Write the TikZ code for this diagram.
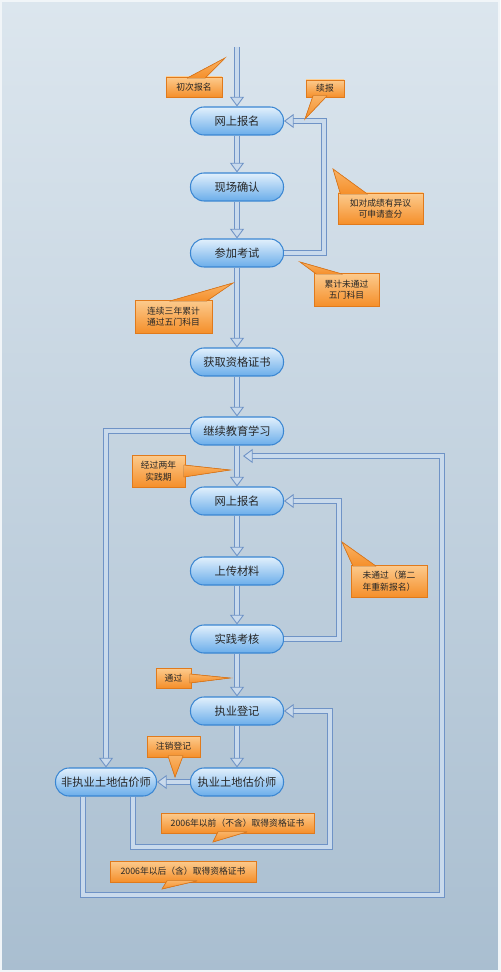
\documentclass[tikz,border=0pt]{standalone}
\usepackage{fontspec}
\setmainfont{Noto Sans CJK SC}
\usetikzlibrary{calc,arrows.meta,shadows}

\definecolor{bgtop}{HTML}{DCE6EE}
\definecolor{bgbot}{HTML}{A9BED0}
\definecolor{boxtop}{HTML}{E2F0FC}
\definecolor{boxbot}{HTML}{6AADEA}
\definecolor{boxline}{HTML}{3A86D2}
\definecolor{flowline}{HTML}{6F93C6}
\definecolor{flowfill}{HTML}{C9DAEC}
\definecolor{notetop}{HTML}{FCCB8E}
\definecolor{notebot}{HTML}{F58F2A}
\definecolor{noteline}{HTML}{E07A1C}

\tikzset{
  stagebox/.style={draw=boxline, line width=0.6pt, rounded corners=0.27cm,
    top color=boxtop, bottom color=boxbot, minimum width=1.86cm,
    minimum height=0.56cm, inner sep=1pt, text=black!85,
    font=\fontsize{6.4}{7}\selectfont},
  flow/.style={draw=flowline, double=flowfill, line width=0.5pt,
    double distance=2.2pt,
    -{Triangle[length=5.5pt, width=8pt, fill=flowfill, line width=0.5pt]}},
  note/.style={draw=noteline, line width=0.4pt, top color=notetop,
    bottom color=notebot, inner sep=1pt, align=center, text=black!85,
    font=\fontsize{5}{6.5}\selectfont,
    drop shadow={shadow xshift=0.7pt, shadow yshift=-0.7pt, opacity=0.25}},
  pointer/.style={draw=noteline, line width=0.4pt,
    top color=notetop!60!notebot, bottom color=notebot},
}

\begin{document}
\begin{tikzpicture}[x=0.02cm, y=-0.02cm]
  \useasboundingbox (0,0) rectangle (500,972);
  \shade[top color=bgtop, bottom color=bgbot] (0,0) rectangle (500,972);
  \draw[white!60!bgtop, line width=1pt] (1,1) rectangle (499,971);

  % stages
  \node[stagebox] (reg) at (237,121) {网上报名};
  \node[stagebox] (confirm) at (237,187) {现场确认};
  \node[stagebox] (exam) at (237,253) {参加考试};
  \node[stagebox] (cert) at (237,362) {获取资格证书};
  \node[stagebox] (study) at (237,431) {继续教育学习};
  \node[stagebox] (regtwo) at (237,501) {网上报名};
  \node[stagebox] (upload) at (237,571) {上传材料};
  \node[stagebox] (practice) at (237,639) {实践考核};
  \node[stagebox] (license) at (237,711) {执业登记};
  \node[stagebox] (valuer) at (237,782) {执业土地估价师};
  \node[stagebox, minimum width=2.02cm] (nonvaluer) at (106,782) {非执业土地估价师};

  % main flow
  \coordinate (entry) at (237,47);
  \draw[flow] (entry) -- (reg);
  \draw[flow] (reg) -- (confirm);
  \draw[flow] (confirm) -- (exam);
  \draw[flow] (exam) -- (cert);
  \draw[flow] (cert) -- (study);
  \draw[flow] (study) -- (regtwo);
  \draw[flow] (regtwo) -- (upload);
  \draw[flow] (upload) -- (practice);
  \draw[flow] (practice) -- (license);
  \draw[flow] (license) -- (valuer);
  \draw[flow] (valuer) -- (nonvaluer);

  % loops
  \draw[flow] (exam.east) -- ++(40,0) |- (reg.east);
  \draw[flow] (practice.east) -- ++(55,0) |- (regtwo.east);
  \draw[flow] (study.west) -| (nonvaluer.north);
  \coordinate (loopin) at (330,847);
  \draw[flow] ($(nonvaluer.south)+(27,0)$) |- (loopin) |- (license.east);
  \coordinate (loopout) at (442,895);
  \coordinate (rejoin) at (243,456);
  \draw[flow] ($(nonvaluer.south)+(-23,0)$) |- (loopout) |- (rejoin);

  % callouts
  \coordinate (firsttip) at (225,58);
  \coordinate (renewtip) at (305,119);
  \coordinate (appealtip) at (333,169);
  \coordinate (failtip) at (300,262);
  \coordinate (passtip) at (233,283);
  \coordinate (periodtip) at (230,470);
  \coordinate (retrytip) at (342,542);
  \coordinate (okaytip) at (230,678);
  \coordinate (canceltip) at (175,777);
  \coordinate (beforetip) at (213,842);
  \coordinate (aftertip) at (162,889);

  \node[note, minimum width=1.12cm, minimum height=0.4cm] (firstnote) at (194,87) {初次报名};
  \filldraw[pointer] ($(firstnote.north)+(-7,1.5)$) -- (firsttip) -- ($(firstnote.north)+(11,1.5)$);
  \node[note, minimum width=0.76cm, minimum height=0.34cm] (renewnote) at (325,88.5) {续报};
  \filldraw[pointer] ($(renewnote.south)+(-12,-1.5)$) -- (renewtip) -- ($(renewnote.south)+(2,-1.5)$);
  \node[note, minimum width=1.7cm, minimum height=0.62cm] (appealnote) at (380.5,208.5) {如对成绩有异议\\可申请查分};
  \filldraw[pointer] ($(appealnote.north)+(-40,1.5)$) -- (appealtip) -- ($(appealnote.north)+(-13,1.5)$);
  \node[note, minimum width=1.3cm, minimum height=0.66cm] (failnote) at (346.5,289.5) {累计未通过\\五门科目};
  \filldraw[pointer] ($(failnote.north)+(-30,1.5)$) -- (failtip) -- ($(failnote.north)+(-4,1.5)$);
  \node[note, minimum width=1.54cm, minimum height=0.66cm] (passnote) at (173.5,316.5) {连续三年累计\\通过五门科目};
  \filldraw[pointer] ($(passnote.north)+(-4,1.5)$) -- (passtip) -- ($(passnote.north)+(33,1.5)$);
  \node[note, minimum width=1.06cm, minimum height=0.64cm] (periodnote) at (158.5,471) {经过两年\\实践期};
  \filldraw[pointer] ($(periodnote.east)+(-1.5,-6)$) -- (periodtip) -- ($(periodnote.east)+(-1.5,6)$);
  \node[note, minimum width=1.52cm, minimum height=0.64cm] (retrynote) at (389,581) {未通过（第二\\年重新报名）};
  \filldraw[pointer] ($(retrynote.north)+(-36,1.5)$) -- (retrytip) -- ($(retrynote.north)+(-13,1.5)$);
  \node[note, minimum width=0.7cm, minimum height=0.4cm] (okaynote) at (173.5,678) {通过};
  \filldraw[pointer] ($(okaynote.east)+(-1.5,-4)$) -- (okaytip) -- ($(okaynote.east)+(-1.5,5)$);
  \node[note, minimum width=1.06cm, minimum height=0.42cm] (cancelnote) at (173.5,746.5) {注销登记};
  \filldraw[pointer] ($(cancelnote.south)+(-5.5,-1.5)$) -- (canceltip) -- ($(cancelnote.south)+(9.5,-1.5)$);
  \node[note, minimum width=3.06cm, minimum height=0.4cm] (beforenote) at (237.5,823) {2006年以前（不含）取得资格证书};
  \filldraw[pointer] ($(beforenote.south)+(-19.5,-1.5)$) -- (beforetip) -- ($(beforenote.south)+(9.5,-1.5)$);
  \node[note, minimum width=2.92cm, minimum height=0.42cm] (afternote) at (183,871.5) {2006年以后（含）取得资格证书};
  \filldraw[pointer] ($(afternote.south)+(-16,-1.5)$) -- (aftertip) -- ($(afternote.south)+(14,-1.5)$);
\end{tikzpicture}
\end{document}
